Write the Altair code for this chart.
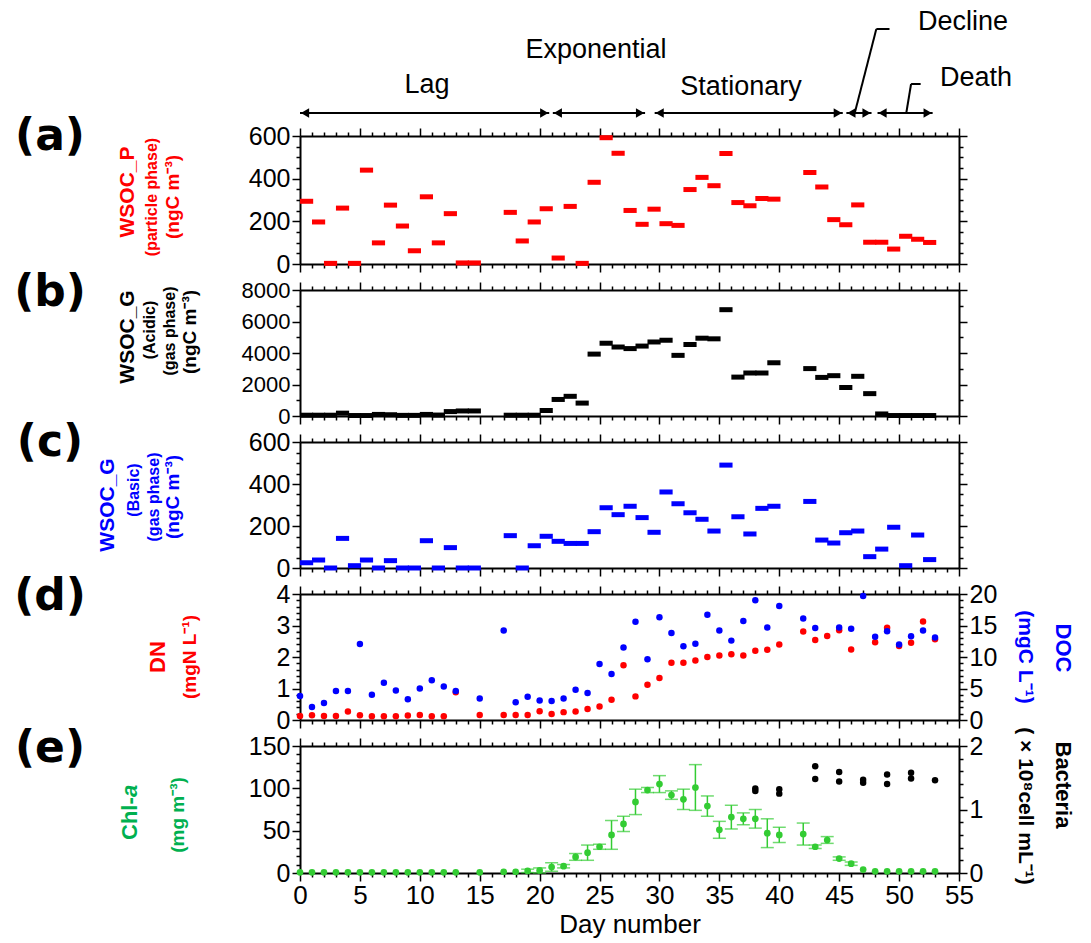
import altair as alt
import pandas as pd

FONT = "Liberation Sans"
BOLDF = "Liberation Sans"
LETTER = "DejaVu Sans"
RED = "#FF0000"
BLUE = "#0000FF"
GREEN = "#33CC33"
LABEL_GREEN = "#00B050"

# ---------------- data ----------------
# (a) WSOC_P (particle phase), ngC m-3 ; sampling start day
a_day = [0, 1, 2, 3, 4, 5, 6, 7, 8, 9, 10, 11, 12, 13, 14,
         17, 18, 19, 20, 21, 22, 23, 24, 25, 26, 27, 28, 29, 30, 31, 32, 33, 34, 35, 36, 37, 38, 39,
         42, 43, 44, 45, 46, 47, 48, 49, 50, 51, 52]
a_val = [294, 197, 3, 262, 3, 440, 99, 276, 178, 62, 315, 99, 236, 5, 5,
         242, 108, 197, 259, 28, 270, 3, 383, 592, 519, 251, 186, 257, 189, 181, 349, 406, 367, 518, 288, 273, 307, 304,
         429, 361, 208, 184, 277, 102, 102, 70, 130, 116, 101]
# (b) WSOC_G acidic
b_val = [50, 50, 50, 180, 30, 30, 100, 80, 40, 40, 100, 60, 280, 320, 320,
         50, 50, 50, 350, 1050, 1250, 820, 3930, 4620, 4380, 4280, 4440, 4700, 4810, 3850, 4540, 4940, 4900, 6750, 2470, 2730, 2730, 3380,
         3010, 2450, 2560, 1810, 2520, 1420, 130, 30, 30, 30, 30]
# (c) WSOC_G basic
c_val = [25, 38, 0, 141, 11, 38, 0, 35, 0, 0, 130, 0, 97, 0, 0,
         154, 0, 106, 151, 127, 117, 117, 173, 287, 254, 294, 240, 170, 362, 306, 263, 232, 176, 490, 244, 162, 284, 294,
         317, 133, 119, 168, 176, 54, 90, 194, 11, 157, 40]

# (d) DN (mgN/L) and DOC (mgC/L)
dn_day = [0, 1, 2, 3, 4, 5, 6, 7, 8, 9, 10, 11, 12, 13, 15,
          17, 18, 19, 20, 21, 22, 23, 24, 25, 26, 27, 28, 29, 30, 31, 32, 33, 34, 35, 36, 37, 38, 39, 40,
          42, 43, 44, 45, 46, 48, 49, 50, 51, 52, 53]
dn_val = [0.13, 0.15, 0.13, 0.13, 0.27, 0.15, 0.12, 0.12, 0.12, 0.14, 0.16, 0.12, 0.12, 0.88, 0.16,
          0.16, 0.16, 0.16, 0.28, 0.19, 0.25, 0.27, 0.35, 0.43, 0.64, 1.74, 0.75, 1.12, 1.33, 1.82, 1.82, 1.89, 2.00, 2.05, 2.09, 2.05, 2.20, 2.23, 2.40,
          2.81, 2.54, 2.67, 2.85, 2.24, 2.47, 2.93, 2.35, 2.45, 3.13, 2.56]
doc_day = [0, 1, 2, 3, 4, 5, 6, 7, 8, 9, 10, 11, 12, 13, 15,
           17, 18, 19, 20, 21, 22, 23, 24, 25, 26, 27, 28, 29, 30, 31, 32, 33, 34, 35, 36, 37, 38, 39, 40,
           42, 43, 45, 46, 47, 48, 49, 50, 51, 52, 53]
doc_val = [3.8, 2.05, 2.7, 4.6, 4.6, 12.05, 4.0, 5.9, 4.7, 3.3, 5.0, 6.3, 5.3, 4.6, 3.4,
           14.2, 2.8, 3.7, 3.1, 3.0, 3.4, 4.8, 4.3, 8.9, 7.3, 11.5, 15.6, 9.65, 16.3, 13.8, 11.7, 12.1, 16.7, 14.2, 12.6, 15.7, 19.0, 14.7, 18.1,
           16.1, 14.6, 14.7, 14.5, 19.7, 13.2, 14.1, 12.0, 13.3, 14.2, 13.1]

# (e) Chl-a (mg m-3) with error, Bacteria (x10^8 cell/mL)
chl_day = [0, 1, 2, 3, 4, 5, 6, 7, 8, 9, 10, 11, 12, 13, 15,
           17, 18, 19, 20, 21, 22, 23, 24, 25, 26, 27, 28, 29, 30, 31, 32, 33, 34, 35, 36, 37, 38, 39, 40,
           42, 43, 44, 45, 46, 47, 48, 49, 50, 51, 52, 53]
chl_val = [0.8, 0.8, 0.8, 0.8, 0.8, 0.8, 0.8, 0.8, 0.8, 0.8, 0.8, 0.8, 0.8, 0.8, 0.8,
           1.5, 1.5, 2.5, 3, 7, 8, 19, 24, 31, 45, 58, 84, 98, 105, 92, 87, 101, 79, 51, 66, 64, 64, 47, 45,
           46, 31, 39, 17, 11, 4, 2, 2, 2, 2, 2, 2]
chl_err = [0, 0, 0, 0, 0, 0, 0, 0, 0, 0, 0, 0, 0, 0, 0,
           0.5, 0.5, 2, 3, 5, 2, 4, 9, 3, 17, 9, 15, 3, 10, 5, 12, 27, 12, 10, 14, 7, 11, 17, 9,
           13, 2, 4, 2, 2, 1, 0.5, 0.5, 0.5, 0.5, 0.5, 0.5]
bac_day = [38, 38, 40, 40, 43, 43, 45, 45, 47, 47, 49, 49, 51, 51, 53]
bac_val = [1.33, 1.29, 1.32, 1.25, 1.68, 1.48, 1.59, 1.44, 1.47, 1.42, 1.55, 1.40, 1.58, 1.49, 1.46]

# growth phases (days)
phase_name = ["Lag", "Exponential", "Stationary", "Decline", "Death"]
phase_start = [0.0, 21.1, 29.6, 45.6, 48.2]
phase_end = [20.8, 28.8, 45.3, 47.7, 52.8]

# ---------------- layout ----------------
X0 = 300
W = 659
H = {"a": 128, "b": 126, "c": 126, "d": 126, "e": 127}
TOP = {"a": 136, "b": 290, "c": 442, "d": 594, "e": 746}
TICKFS = 25
one = pd.DataFrame({"k": [0]})


def xs():
    return alt.Scale(domain=[0, 55], nice=False, zero=False)


def tick_size(test):
    return {"condition": {"test": test, "value": 8}, "value": 4}


def base_axis():
    return dict(grid=False, domainColor="black", domainWidth=2, tickColor="black", tickWidth=1.5,
                labelFont=FONT, labelColor="black", labelOverlap=False, labelFlush=False,
                labelBound=False)


def x_axis(orient, labels):
    kw = base_axis()
    kw.update(orient=orient, values=list(range(0, 56)),
              tickSize=tick_size("datum.value % 5 === 0"), labels=labels)
    if labels:
        kw.update(labelExpr="datum.value % 5 === 0 ? format(datum.value, 'd') : ''",
                  labelFontSize=26, labelPadding=1, titleFont=FONT, titleFontSize=26,
                  titleFontWeight="normal", titleColor="black", titlePadding=3)
    return alt.Axis(**kw)


def y_axis(orient, values, test, labels, size=TICKFS):
    kw = base_axis()
    kw.update(orient=orient, values=values, tickSize=tick_size(test), labels=labels)
    if labels:
        kw.update(labelExpr="(" + test + ") ? format(datum.value, 'd') : ''",
                  labelFontSize=size, labelPadding=2)
    return alt.Axis(**kw)


def txt(text, xa, ya, top, size, color="black", angle=0, weight="bold", font=BOLDF,
        align="center", style="normal"):
    return alt.Chart(one).mark_text(text=text, fontSize=size, color=color, angle=angle,
                                    fontWeight=weight, font=font, align=align,
                                    fontStyle=style, baseline="middle").encode(
        x=alt.value(xa - X0), y=alt.value(ya - top))


def bar_panel(vals, color, ymax, yvals, ytest, ysize):
    df = pd.DataFrame({"day": a_day, "v": vals})
    df["end"] = df["day"] + 1.1
    ysc = alt.Scale(domain=[0, ymax], nice=False)
    bars = alt.Chart(df).mark_rule(color=color, strokeWidth=5, strokeCap="butt").encode(
        x=alt.X("day:Q", scale=xs(), axis=x_axis("bottom", False), title=None),
        x2="end:Q",
        y=alt.Y("v:Q", scale=ysc, axis=y_axis("left", yvals, ytest, True, ysize), title=None))
    mirror = alt.Chart(df).mark_point(opacity=0).encode(
        x=alt.X("day:Q", scale=xs(), axis=x_axis("top", False), title=None),
        y=alt.Y("v:Q", scale=ysc, axis=y_axis("right", yvals, ytest, False), title=None))
    return [bars, mirror]


vals600 = [i * 50 for i in range(13)]
vals8000 = [i * 1000 for i in range(9)]

# ---------- panel a ----------
ta = TOP["a"]
pa = bar_panel(a_val, RED, 600, vals600, "datum.value % 200 === 0", TICKFS)

ph = pd.DataFrame({"name": phase_name, "start": phase_start, "end": phase_end})
arr_line = alt.Chart(ph).mark_rule(color="black", strokeWidth=2).encode(
    x=alt.X("start:Q", scale=xs(), axis=None), x2="end:Q", y=alt.value(113 - ta))
arr_l = alt.Chart(ph).mark_point(shape="triangle-left", filled=True, color="black", size=90,
                                 opacity=1, xOffset=5).encode(
    x=alt.X("start:Q", scale=xs(), axis=None), y=alt.value(113 - ta))
arr_r = alt.Chart(ph).mark_point(shape="triangle-right", filled=True, color="black", size=90,
                                 opacity=1, xOffset=-5).encode(
    x=alt.X("end:Q", scale=xs(), axis=None), y=alt.value(113 - ta))


def seg(x1, x2, y1, y2):
    d = pd.DataFrame({"x1": [x1], "x2": [x2]})
    return alt.Chart(d).mark_rule(color="black", strokeWidth=2).encode(
        x=alt.X("x1:Q", scale=xs(), axis=None), x2="x2:Q",
        y=alt.value(y1 - ta), y2=alt.value(y2 - ta))


leaders = [seg(46.3, 48.1, 113, 29), seg(48.1, 49.2, 29, 29),
           seg(50.6, 51.0, 113, 84), seg(51.0, 51.8, 84, 84)]

phase_labels = [
    txt("Lag", 427, 85, ta, 27, weight="normal", font=FONT),
    txt("Exponential", 596, 50, ta, 27, weight="normal", font=FONT),
    txt("Stationary", 741, 87, ta, 27, weight="normal", font=FONT),
    txt("Decline", 918, 22, ta, 27, weight="normal", font=FONT, align="left"),
    txt("Death", 940, 78, ta, 27, weight="normal", font=FONT, align="left"),
]
anchor = alt.Chart(one).mark_rule(color="white", strokeWidth=1, opacity=0).encode(
    x=alt.value(-299.5), x2=alt.value(-298.5), y=alt.value(-ta + 0.5), y2=alt.value(-ta + 1.5))

a_labels = [
    txt("(a)", 50, 137, ta, 44, font=LETTER),
    txt("WSOC_P", 128, 192, ta, 21, RED, 270),
    txt("(particle phase)", 152, 197, ta, 16, RED, 270),
    txt("(ngC m⁻³)", 173, 197, ta, 19, RED, 270),
]
panel_a = alt.layer(*pa, arr_line, arr_l, arr_r, *leaders, *phase_labels, anchor, *a_labels).resolve_scale(
    x="independent", y="independent").properties(width=W, height=H["a"])

# ---------- panel b ----------
tb = TOP["b"]
pb = bar_panel(b_val, "black", 8000, vals8000, "datum.value % 2000 === 0", 22)
b_labels = [
    txt("(b)", 50, 293, tb, 44, font=LETTER),
    txt("WSOC_G", 128, 337, tb, 21, "black", 270),
    txt("(Acidic)", 150, 330, tb, 16, "black", 270),
    txt("(gas phase)", 170, 331, tb, 16, "black", 270),
    txt("(ngC m⁻³)", 190, 332, tb, 19, "black", 270),
]
panel_b = alt.layer(*pb, *b_labels).resolve_scale(x="independent", y="independent").properties(
    width=W, height=H["b"])

# ---------- panel c ----------
tc = TOP["c"]
pc = bar_panel(c_val, BLUE, 600, vals600, "datum.value % 200 === 0", TICKFS)
c_labels = [
    txt("(c)", 50, 443, tc, 44, font=LETTER),
    txt("WSOC_G", 108, 505, tc, 21, BLUE, 270),
    txt("(Basic)", 134, 490, tc, 16, BLUE, 270),
    txt("(gas phase)", 154, 497, tc, 16, BLUE, 270),
    txt("(ngC m⁻³)", 173, 497, tc, 19, BLUE, 270),
]
panel_c = alt.layer(*pc, *c_labels).resolve_scale(x="independent", y="independent").properties(
    width=W, height=H["c"])

# ---------- panel d ----------
td = TOP["d"]
dn_df = pd.DataFrame({"day": dn_day, "v": dn_val})
doc_df = pd.DataFrame({"day": doc_day, "v": doc_val})
vals4 = [round(i * 0.2, 1) for i in range(21)]
int_test = "abs(datum.value - round(datum.value)) < 0.001"
dn_layer = alt.Chart(dn_df).mark_circle(size=42, color=RED, opacity=1).encode(
    x=alt.X("day:Q", scale=xs(), axis=x_axis("bottom", False), title=None),
    y=alt.Y("v:Q", scale=alt.Scale(domain=[0, 4], nice=False),
            axis=y_axis("left", vals4, int_test, True), title=None))
doc_layer = alt.Chart(doc_df).mark_circle(size=42, color=BLUE, opacity=1).encode(
    x=alt.X("day:Q", scale=xs(), axis=x_axis("top", False), title=None),
    y=alt.Y("v:Q", scale=alt.Scale(domain=[0, 20], nice=False),
            axis=y_axis("right", list(range(0, 21)), "datum.value % 5 === 0", True), title=None))
d_labels = [
    txt("(d)", 50, 597, td, 44, font=LETTER),
    txt("DN", 158, 657, td, 22, RED, 270),
    txt("(mgN L⁻¹)", 190, 657, td, 19, RED, 270),
    txt("(mgC L⁻¹)", 1025, 657, td, 21, BLUE, 90),
    txt("DOC", 1063, 648, td, 22, BLUE, 90),
]
panel_d = alt.layer(dn_layer, doc_layer, *d_labels).resolve_scale(
    x="independent", y="independent").properties(width=W, height=H["d"])

# ---------- panel e ----------
te = TOP["e"]
chl_df = pd.DataFrame({"day": chl_day, "v": chl_val, "err": chl_err})
chl_df["lo"] = chl_df["v"] - chl_df["err"]
chl_df["hi"] = chl_df["v"] + chl_df["err"]
err_df = chl_df[chl_df["err"] >= 1.5]


def chl_sc():
    return alt.Scale(domain=[0, 150], nice=False)


err_rule = alt.Chart(err_df).mark_rule(color=GREEN, strokeWidth=1.5).encode(
    x=alt.X("day:Q", scale=xs(), axis=None),
    y=alt.Y("lo:Q", scale=chl_sc(), axis=None), y2="hi:Q")
cap_lo = alt.Chart(err_df).mark_tick(color=GREEN, orient="horizontal", size=13, thickness=1.5).encode(
    x=alt.X("day:Q", scale=xs(), axis=None), y=alt.Y("lo:Q", scale=chl_sc(), axis=None))
cap_hi = alt.Chart(err_df).mark_tick(color=GREEN, orient="horizontal", size=13, thickness=1.5).encode(
    x=alt.X("day:Q", scale=xs(), axis=None), y=alt.Y("hi:Q", scale=chl_sc(), axis=None))
chl_pts = alt.Chart(chl_df).mark_circle(size=45, color=GREEN, opacity=1).encode(
    x=alt.X("day:Q", scale=xs(), axis=x_axis("bottom", True), title="Day number"),
    y=alt.Y("v:Q", scale=chl_sc(),
            axis=y_axis("left", [i * 10 for i in range(16)], "datum.value % 50 === 0", True),
            title=None))
bac_df = pd.DataFrame({"day": bac_day, "v": bac_val})
bac_layer = alt.Chart(bac_df).mark_circle(size=42, color="black", opacity=1).encode(
    x=alt.X("day:Q", scale=xs(), axis=x_axis("top", False), title=None),
    y=alt.Y("v:Q", scale=alt.Scale(domain=[0, 2], nice=False),
            axis=y_axis("right", [round(i * 0.2, 1) for i in range(11)], int_test, True),
            title=None))
e_labels = [
    txt("(e)", 50, 749, te, 44, font=LETTER),
    alt.Chart(one).mark_text(text="Chl-", fontSize=22, color=LABEL_GREEN, angle=270, fontWeight="bold",
                             font=BOLDF, align="left", baseline="middle").encode(
        x=alt.value(130 - X0), y=alt.value(840 - te)),
    alt.Chart(one).mark_text(text="a", fontSize=22, color=LABEL_GREEN, angle=270, fontWeight="bold",
                             font=BOLDF, align="left", baseline="middle", fontStyle="italic").encode(
        x=alt.value(130 - X0), y=alt.value(797 - te)),
    txt("(mg m⁻³)", 178, 815, te, 19, LABEL_GREEN, 270),
    txt("( × 10⁸cell mL⁻¹)", 1025, 806, te, 21, "black", 90),
    txt("Bacteria", 1063, 785, te, 22, "black", 90),
]
panel_e = alt.layer(err_rule, cap_lo, cap_hi, chl_pts, bac_layer, *e_labels).resolve_scale(
    x="independent", y="independent").properties(width=W, height=H["e"])

chart = alt.vconcat(panel_a, panel_b, panel_c, panel_d, panel_e, spacing=26, bounds="flush").properties(
    padding={"left": 0, "top": 0, "right": 5, "bottom": 5}
).configure_view(stroke="black", strokeWidth=2).configure(background="white")

chart.save("out.html", embed_options={"renderer": "svg", "actions": False})
